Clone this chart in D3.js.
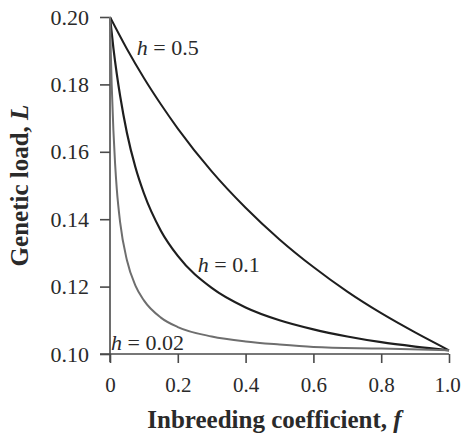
<!DOCTYPE html>
<html>
<head>
<meta charset="utf-8">
<script src="https://cdn.jsdelivr.net/npm/d3@7"></script>
<style>
  body { margin: 0; background: #fff; }
  svg text { font-family: "Liberation Serif", "DejaVu Serif", serif; fill: #2a2a2a; }
  .tick text { font-size: 22px; }
  .xAxis .tick text { font-size: 21px; }
  .axisText { font-size: 25px; font-weight: bold; }
  .curveLabel { font-size: 22px; }
</style>
</head>
<body>
<div id="chart"></div>
<script>
// SVG area
var svgWidth = 462;
var svgHeight = 439;

var chartMargin = { top: 17, right: 13, bottom: 85, left: 110 };
var chartWidth = 449 - chartMargin.left;   // 0 -> 1.0
var chartHeight = 354 - chartMargin.top;   // 0.20 -> 0.10

// Data: inbreeding coefficient f and genetic load L
var fH05 = [0, 0.05, 0.1, 0.15, 0.2, 0.3, 0.4, 0.5, 0.6, 0.7, 0.8, 0.9, 1.0];
var loadH05 = [0.2000, 0.1905, 0.1819, 0.1741, 0.1669, 0.1542, 0.1434, 0.1340, 0.1258, 0.1185, 0.1121, 0.1064, 0.1011];

var fH01 = [0, 0.01, 0.02, 0.03, 0.05, 0.075, 0.1, 0.15, 0.2, 0.3, 0.4, 0.5, 0.6, 0.7, 0.8, 0.9, 1.0];
var loadH01 = [0.2000, 0.1908, 0.1831, 0.1765, 0.1656, 0.1554, 0.1477, 0.1366, 0.1291, 0.1196, 0.1138, 0.1100, 0.1073, 0.1052, 0.1035, 0.1022, 0.1011];

var fH002 = [0, 0.0025, 0.005, 0.01, 0.015, 0.02, 0.03, 0.05, 0.075, 0.1, 0.15, 0.2, 0.3, 0.4, 0.5, 0.6, 0.8, 1.0];
var loadH002 = [0.2000, 0.1889, 0.1799, 0.1664, 0.1565, 0.1490, 0.1390, 0.1278, 0.1203, 0.1159, 0.1108, 0.1080, 0.1052, 0.1037, 0.1028, 0.1021, 0.1016, 0.1011];

var xTicks = [0, 0.2, 0.4, 0.6, 0.8, 1.0];
var xTickLabels = ["0", "0.2", "0.4", "0.6", "0.8", "1.0"];
var yTicks = [0.10, 0.12, 0.14, 0.16, 0.18, 0.20];
var yTickLabels = ["0.10", "0.12", "0.14", "0.16", "0.18", "0.20"];

var hLabels = ["0.5", "0.1", "0.02"];

var svg = d3.select("#chart")
  .append("svg")
  .attr("width", svgWidth)
  .attr("height", svgHeight);

var chartGroup = svg.append("g")
  .attr("transform", `translate(${chartMargin.left}, ${chartMargin.top})`);

// scales
var xScale = d3.scaleLinear().domain([0, 1]).range([0, chartWidth]);
var yScale = d3.scaleLinear().domain([0.10, 0.20]).range([chartHeight, 0]);

// axes
var bottomAxis = d3.axisBottom(xScale)
  .tickValues(xTicks)
  .tickFormat((d, i) => xTickLabels[i])
  .tickSizeInner(9)
  .tickSizeOuter(0)
  .tickPadding(14);

var leftAxis = d3.axisLeft(yScale)
  .tickValues(yTicks)
  .tickFormat((d, i) => yTickLabels[i])
  .tickSizeInner(10)
  .tickSizeOuter(0)
  .tickPadding(11);

var xAxisG = chartGroup.append("g")
  .attr("class", "xAxis")
  .attr("transform", `translate(0, ${chartHeight})`)
  .call(bottomAxis);

var yAxisG = chartGroup.append("g")
  .call(leftAxis);

[xAxisG, yAxisG].forEach(function(g) {
  g.attr("font-family", null).attr("font-size", null);
  g.select(".domain").attr("stroke", "#4a4a4a").attr("stroke-width", 1.6);
  g.selectAll(".tick line").attr("stroke", "#4a4a4a").attr("stroke-width", 1.6);
  g.selectAll(".tick text").attr("fill", "#2a2a2a");
});
xAxisG.select(".domain").attr("d", `M-10,0H${chartWidth}`);
yAxisG.select(".domain").attr("d", `M0,0V${chartHeight + 8}`);
// keep the last label inside the window
xAxisG.selectAll(".tick text").filter(d => d === 1.0).attr("dx", -2);

// curves
var series = [
  { f: fH05, L: loadH05, color: "#1e1e1e", width: 2 },
  { f: fH01, L: loadH01, color: "#1e1e1e", width: 2.2 },
  { f: fH002, L: loadH002, color: "#6e6e6e", width: 2 }
];

var line = d3.line()
  .x(d => xScale(d[0]))
  .y(d => yScale(d[1]))
  .curve(d3.curveMonotoneX);

series.forEach(function(s) {
  chartGroup.append("path")
    .datum(s.f.map((f, i) => [f, s.L[i]]))
    .attr("fill", "none")
    .attr("stroke", s.color)
    .attr("stroke-width", s.width)
    .attr("d", line);
});

// curve labels
var labelPos = [
  { x: 0.079, y: 0.1888 },
  { x: 0.259, y: 0.1243 },
  { x: 0.003, y: 0.1012 }
];

labelPos.forEach(function(p, i) {
  var t = chartGroup.append("text")
    .attr("class", "curveLabel")
    .attr("x", xScale(p.x))
    .attr("y", yScale(p.y));
  t.append("tspan").attr("font-style", "italic").text("h");
  t.append("tspan").text(" = " + hLabels[i]);
});

// axis labels
var yTitle = chartGroup.append("text")
  .attr("class", "axisText")
  .attr("transform", "rotate(-90)")
  .attr("x", -(chartHeight / 2))
  .attr("y", -82)
  .attr("text-anchor", "middle");
yTitle.append("tspan").text("Genetic load, ");
yTitle.append("tspan").attr("font-style", "italic").text("L");

var xTitle = chartGroup.append("text")
  .attr("class", "axisText")
  .attr("x", chartWidth / 2 - 5)
  .attr("y", chartHeight + 74)
  .attr("text-anchor", "middle");
xTitle.append("tspan").text("Inbreeding coefficient, ");
xTitle.append("tspan").attr("font-style", "italic").text("f");
</script>
</body>
</html>
